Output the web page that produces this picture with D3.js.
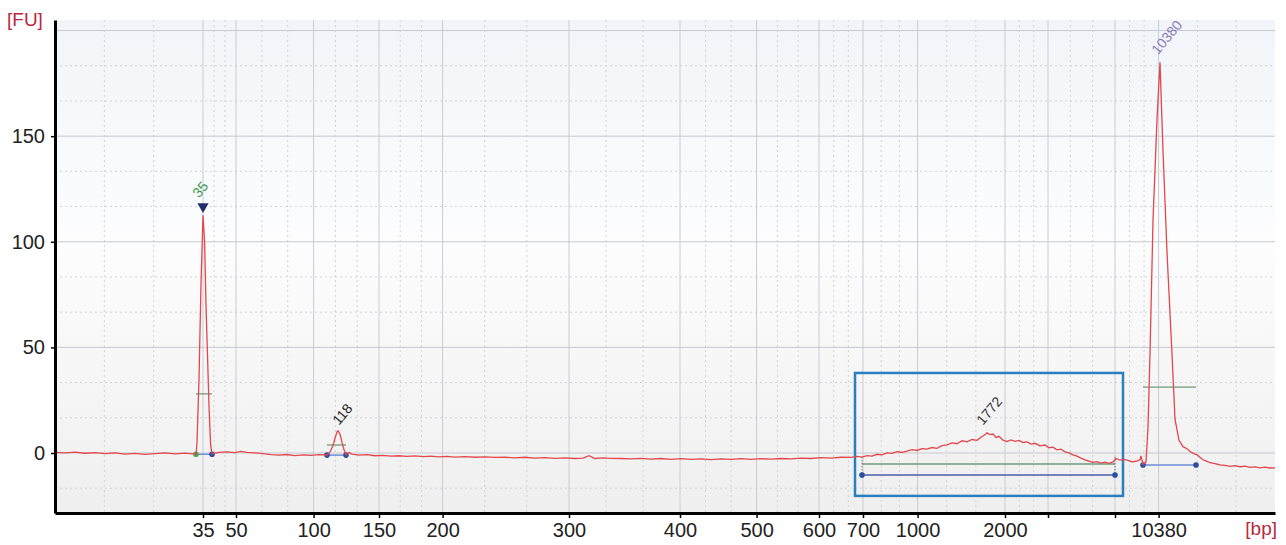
<!DOCTYPE html>
<html>
<head>
<meta charset="utf-8">
<script src="https://cdn.jsdelivr.net/npm/d3@7"></script>
<style>
    body { margin: 0; background: #fff; font-family: "Liberation Sans", Arial, sans-serif; }
    #chart { width: 1286px; height: 545px; }
    .tick text { font-family: "Liberation Sans", Arial, sans-serif; }
</style>
</head>
<body>
<div id="chart"></div>
<script>

// Ladder: fragment size (bp) and its migration time (s)
let ladderBp = [35, 50, 100, 150, 200, 300, 400, 500, 600, 700, 1000, 2000, 3000, 7000, 10380];
let ladderTime = [47.40, 49.05, 52.93, 56.20, 59.38, 65.70, 71.25, 75.08, 78.20, 80.40, 83.13, 87.50, 89.65, 93.00, 95.18];
let hiddenBpLabels = [3000, 7000];
let timeRange = [40, 101];

let fuTicks = [0, 50, 100, 150];
let fuRange = [-28.4, 205];

// Trace (migration time, fluorescence units)
let traceTime = [
    40.0, 40.5, 41.0, 41.5, 42.0, 42.5, 43.0, 43.5, 44.0, 44.5, 45.0, 45.5, 46.0, 46.5, 47.0,
    47.05, 47.10, 47.20, 47.30, 47.40, 47.48, 47.55, 47.62, 47.70, 47.78, 47.85,
    48.2, 48.6, 49.0, 49.3, 49.6, 50.0, 50.4, 50.8, 51.2, 51.6, 52.0, 52.4, 52.8, 53.2,
    53.5, 53.6, 53.75, 53.9, 54.0, 54.1, 54.15, 54.25, 54.35, 54.45, 54.55, 54.7, 54.85,
    55.2, 55.6, 56.0, 56.4, 56.8, 57.2, 57.6, 58.0, 58.4, 58.8, 59.2, 59.6, 60.0, 60.5,
    61.0, 61.5, 62.0, 62.5, 63.0, 63.5, 64.0, 64.5, 65.0, 65.5, 66.0, 66.4, 66.7, 67.0,
    67.4, 67.8, 68.3, 68.8, 69.3, 69.8, 70.3, 70.8, 71.3, 71.8, 72.3, 72.8, 73.3, 73.8,
    74.3, 74.8, 75.3, 75.8, 76.3, 76.8, 77.3, 77.8, 78.3, 78.8, 79.3, 79.8,
    80.1, 80.35, 80.6, 80.85, 81.1, 81.35, 81.6, 81.85, 82.1, 82.35, 82.6, 82.85, 83.1,
    83.35, 83.6, 83.85, 84.1, 84.35, 84.6, 84.85, 85.1, 85.35, 85.6, 85.85, 86.1, 86.35,
    86.5, 86.6, 86.75, 86.9, 87.05, 87.2, 87.4, 87.6, 87.8, 88.0, 88.2, 88.4, 88.6, 88.8,
    89.0, 89.25, 89.5, 89.7, 89.9, 90.1, 90.3, 90.5, 90.7, 90.9, 91.1, 91.3, 91.5, 91.7,
    91.9, 92.1, 92.3, 92.5, 92.7, 92.9, 93.05, 93.25, 93.45, 93.65, 93.85, 94.05, 94.25,
    94.3, 94.4, 94.55, 94.65, 94.75, 94.9, 95.1, 95.25, 95.4, 95.6, 95.85, 96.0, 96.2,
    96.4, 96.6, 96.8, 97.0, 97.1, 97.25, 97.4, 97.6, 97.75, 98.0, 98.25, 98.5, 98.75,
    99.0, 99.25, 99.5, 99.75, 100.0, 100.25, 100.5, 100.75, 101.0
];
let traceFU = [
    0.3, 0.1, 0.4, -0.1, 0.2, -0.3, 0.1, -0.5, -0.2, -0.6, -0.3, 0.1, -0.4, -0.1, -0.5,
    -0.8, 5, 35, 80, 112.5, 100, 70, 48, 22, 4, -0.3,
    0.3, 0.5, 0.2, 0.8, 0.3, 0.1, -0.3, -0.8, -1.0, -0.7, -1.2, -0.9, -1.1, -0.8,
    -0.9, -1.0, 0.5, 3.5, 7, 10, 10.5, 9, 5, 1.5, -0.8, 0.2, -0.5,
    -1.0, -0.8, -1.3, -1.1, -1.5, -1.3, -1.6, -1.4, -1.7, -1.5, -1.8, -1.6, -1.9, -1.7,
    -2.0, -1.8, -2.1, -2.0, -2.3, -2.0, -2.4, -2.2, -2.5, -2.3, -2.6, -2.4, -1.3, -2.6,
    -2.3, -2.5, -2.6, -2.8, -2.5, -2.9, -2.6, -3.0, -2.7, -3.0, -2.8, -3.1, -2.8, -3.0,
    -2.7, -3.0, -2.7, -2.9, -2.6, -2.8, -2.4, -2.6, -2.2, -2.4, -2.0, -2.1,
    -1.6, -1.9, -1.2, -1.5, -0.6, -0.9, 0.1, -0.2, 0.6, 0.3, 0.9, 1.6, 1.2,
    2.1, 1.8, 2.6, 2.2, 3.5, 3.9, 4.8, 4.4, 5.8, 5.3, 6.4, 6.0, 7.8,
    8.6, 9.6, 8.7, 9.0, 7.4, 7.9, 6.1, 5.4, 6.2, 5.5, 6.0, 5.0, 5.3, 4.2,
    4.6, 3.4, 3.8, 2.5, 2.8, 1.5, 1.8, 0.5, 0.1, -0.9, -1.5, -2.4, -3.2, -3.8,
    -4.4, -4.1, -4.8, -4.3, -4.9, -4.2, -2.6, -3.4, -3.0, -3.5, -4.2, -3.9, -3.2,
    -1.4, -5.4, -4.3, 12, 47, 110, 158, 185, 143, 95, 47, 16, 6,
    3, 2, 0.4, -0.5, -0.8, -2.0, -3.2, -4.0, -4.6, -5.0, -5.6, -5.9, -6.3,
    -6.0, -6.5, -6.2, -6.8, -6.6, -7.0, -6.7, -7.1, -7.0
];

// Called peaks
let peakLabels = ["35", "118", "1772", "10380"];
let peakTime = [47.40, 54.15, 86.60, 95.25];
let peakFU = [112.5, 10.5, 9.6, 185];
let peakStart = [47.05, 53.60, 80.35, 94.40];
let peakEnd = [47.85, 54.55, 93.00, 97.05];
let peakBaseFU = [-0.6, -1.0, -10.4, -5.7];
let peakHalfFU = [28, 3.8, -5.2, 31.2];

// Selected region (smear)
let regionTime = [80.0, 93.4];
let regionFU = [-20.3, 37.9];

class ElectropherogramVis {

    constructor(parentElement) {
        this.parentElement = parentElement;
        this.initVis();
    }

    initVis() {
        let vis = this;

        vis.margin = {top: 20, right: 11, bottom: 32, left: 55};
        vis.width = 1286 - vis.margin.left - vis.margin.right;
        vis.height = 545 - vis.margin.top - vis.margin.bottom;

        vis.root = d3.select("#" + vis.parentElement).append("svg")
            .attr("width", 1286)
            .attr("height", 545);

        vis.svg = vis.root.append("g")
            .attr("transform", `translate(${vis.margin.left}, ${vis.margin.top})`);

        vis.x = d3.scaleLinear().domain(timeRange).range([0, vis.width]);
        vis.y = d3.scaleLinear().domain(fuRange).range([vis.height, 0]);

        // background gradient
        let grad = vis.root.append("defs").append("linearGradient")
            .attr("id", "bg").attr("x1", 0).attr("y1", 0).attr("x2", 0).attr("y2", 1);
        grad.append("stop").attr("offset", "0%").attr("stop-color", "#f1f5f9");
        grad.append("stop").attr("offset", "45%").attr("stop-color", "#fdfdfe");
        grad.append("stop").attr("offset", "100%").attr("stop-color", "#efefef");

        vis.svg.append("rect")
            .attr("width", vis.width).attr("height", vis.height)
            .attr("fill", "url(#bg)");

        vis.wrangleData();
    }

    wrangleData() {
        let vis = this;

        vis.trace = traceTime.map((t, i) => ({t: t, fu: traceFU[i]}));

        vis.peaks = peakLabels.map((label, i) => ({
            label: label, t: peakTime[i], fu: peakFU[i],
            start: peakStart[i], end: peakEnd[i],
            base: peakBaseFU[i], half: peakHalfFU[i]
        }));

        // minor grid: thirds between ladder positions
        let edges = [timeRange[0]].concat(ladderTime, [timeRange[1]]);
        vis.minorX = [];
        for (let i = 0; i < edges.length - 1; i++) {
            let step = (edges[i + 1] - edges[i]) / 3;
            vis.minorX.push(edges[i] + step, edges[i] + 2 * step);
        }
        vis.majorY = [0, 50, 100, 150, 200];
        vis.minorY = [];
        for (let v = -50; v < 200; v += 50) {
            vis.minorY.push(v + 50 / 3, v + 100 / 3);
        }
        vis.minorY = vis.minorY.filter(v => v > fuRange[0] && v < fuRange[1]);

        vis.updateVis();
    }

    updateVis() {
        let vis = this;

        // grid
        let grid = vis.svg.append("g").attr("class", "grid");

        grid.selectAll(".minor-x").data(vis.minorX).enter().append("line")
            .attr("x1", d => vis.x(d)).attr("x2", d => vis.x(d))
            .attr("y1", 0).attr("y2", vis.height)
            .attr("stroke", "#cfd2d6").attr("stroke-dasharray", "2,3");

        grid.selectAll(".minor-y").data(vis.minorY).enter().append("line")
            .attr("x1", 0).attr("x2", vis.width)
            .attr("y1", d => vis.y(d)).attr("y2", d => vis.y(d))
            .attr("stroke", "#cfd2d6").attr("stroke-dasharray", "2,3");

        grid.selectAll(".major-x").data(ladderTime).enter().append("line")
            .attr("x1", d => vis.x(d)).attr("x2", d => vis.x(d))
            .attr("y1", 0).attr("y2", vis.height)
            .attr("stroke", "#c9ccd3");

        grid.selectAll(".major-y").data(vis.majorY).enter().append("line")
            .attr("x1", 0).attr("x2", vis.width)
            .attr("y1", d => vis.y(d)).attr("y2", d => vis.y(d))
            .attr("stroke", "#c5c9d2");

        // selected region box
        vis.svg.append("rect")
            .attr("x", vis.x(regionTime[0]))
            .attr("y", vis.y(regionFU[1]))
            .attr("width", vis.x(regionTime[1]) - vis.x(regionTime[0]))
            .attr("height", vis.y(regionFU[0]) - vis.y(regionFU[1]))
            .attr("fill", "none")
            .attr("stroke", "#2a7fc1")
            .attr("stroke-width", 2.5);

        // peak markers: half-height and baseline segments
        let markers = vis.svg.append("g");

        markers.selectAll(".half").data(vis.peaks).enter().append("line")
            .attr("x1", d => vis.x(d.start)).attr("x2", d => vis.x(d.end))
            .attr("y1", d => vis.y(d.half)).attr("y2", d => vis.y(d.half))
            .attr("stroke", "#6f9a78").attr("stroke-width", 1.3);

        markers.selectAll(".base").data(vis.peaks).enter().append("line")
            .attr("x1", d => vis.x(d.start)).attr("x2", d => vis.x(d.end))
            .attr("y1", d => vis.y(d.base)).attr("y2", d => vis.y(d.base))
            .attr("stroke", (d, i) => i === 2 ? "#4a5fa8" : "#6d8fd8")
            .attr("stroke-width", 1.5);

        // region end ticks
        let region = vis.peaks[2];
        markers.selectAll(".rtick").data([region.start, region.end]).enter().append("line")
            .attr("x1", d => vis.x(d)).attr("x2", d => vis.x(d))
            .attr("y1", vis.y(-2)).attr("y2", vis.y(region.base))
            .attr("stroke", "#555").attr("stroke-dasharray", "1,2");

        let dots = [];
        vis.peaks.forEach((p, i) => {
            dots.push({t: p.start, fu: p.base, color: i === 0 ? "#3fae49" : "#2b4ea0"});
            dots.push({t: p.end, fu: p.base, color: "#2b4ea0"});
        });
        markers.selectAll(".dot").data(dots).enter().append("circle")
            .attr("cx", d => vis.x(d.t)).attr("cy", d => vis.y(d.fu))
            .attr("r", 2.8).attr("fill", d => d.color);

        // trace
        let line = d3.line()
            .x(d => vis.x(d.t))
            .y(d => vis.y(d.fu))
            .curve(d3.curveLinear);

        vis.svg.append("path")
            .datum(vis.trace)
            .attr("d", line)
            .attr("fill", "none")
            .attr("stroke", "#e4464b")
            .attr("stroke-width", 1.3);

        // marker triangle on the lower-marker peak
        let tri = vis.peaks[0];
        vis.svg.append("path")
            .attr("d", d3.symbol().type(d3.symbolTriangle).size(55))
            .attr("transform", `translate(${vis.x(tri.t)}, ${vis.y(tri.fu) - 9}) rotate(180)`)
            .attr("fill", "#1f2f6b");

        // peak labels
        let labelColors = ["#3d9a4c", "#222222", "#333333", "#8c7bbf"];
        let labelOffset = [[-4, -17], [1, -5], [-4, -7], [-2, -7]];
        vis.svg.selectAll(".peak-label").data(vis.peaks).enter().append("text")
            .attr("transform", (d, i) =>
                `translate(${vis.x(d.t) + labelOffset[i][0]}, ${vis.y(d.fu) + labelOffset[i][1]}) rotate(-50)`)
            .attr("font-size", 14)
            .attr("fill", (d, i) => labelColors[i])
            .text(d => d.label);

        // axes
        vis.xAxis = d3.axisBottom(vis.x)
            .tickValues(ladderTime)
            .tickFormat((d, i) => hiddenBpLabels.includes(ladderBp[i]) ? "" : ladderBp[i])
            .tickSize(5).tickSizeOuter(0).tickPadding(5);

        vis.yAxis = d3.axisLeft(vis.y)
            .tickValues(fuTicks)
            .tickSize(4).tickSizeOuter(0).tickPadding(6);

        let gx = vis.svg.append("g")
            .attr("class", "x-axis axis")
            .attr("transform", "translate(0," + vis.height + ")")
            .call(vis.xAxis);

        let gy = vis.svg.append("g")
            .attr("class", "y-axis axis")
            .call(vis.yAxis);

        [gx, gy].forEach(g => {
            g.select(".domain").attr("stroke", "#000").attr("stroke-width", 3);
            g.selectAll(".tick line").attr("stroke", "#000").attr("stroke-width", 1.5);
            g.selectAll(".tick text").attr("font-size", 20).attr("fill", "#222");
        });

        // unit labels
        vis.root.append("text")
            .attr("x", 7).attr("y", 26)
            .attr("font-size", 19)
            .attr("fill", "#b8293b")
            .text("[FU]");

        vis.root.append("text")
            .attr("x", 1277).attr("y", 535)
            .attr("text-anchor", "end")
            .attr("font-size", 19)
            .attr("fill", "#b8293b")
            .text("[bp]");
    }
}

new ElectropherogramVis("chart");

</script>
</body>
</html>
